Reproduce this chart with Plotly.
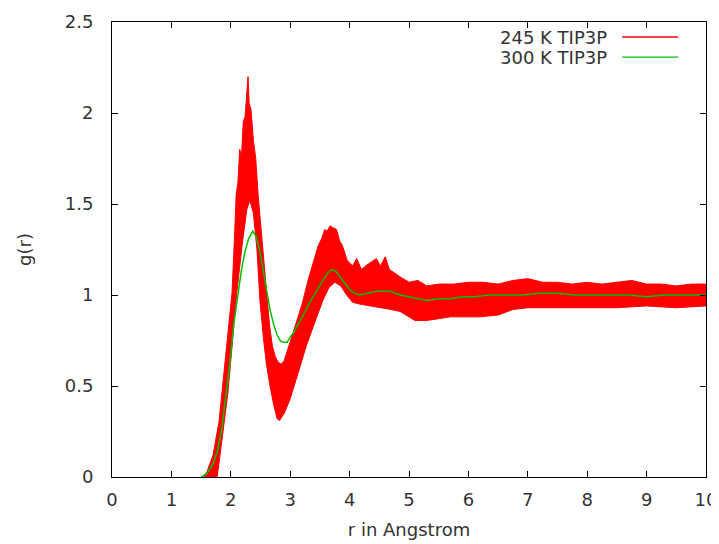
import plotly.graph_objects as go

# ---- data ----
series_names = ["245 K TIP3P", "300 K TIP3P"]

# 245 K: the trace is very noisy, represented by its upper and lower envelopes
r245_upper = [1.55, 1.6, 1.7, 1.8, 1.85, 1.95, 2.02, 2.06, 2.09, 2.12, 2.15, 2.18, 2.21, 2.24, 2.27, 2.29,
              2.31, 2.34, 2.38, 2.42, 2.46, 2.5, 2.55, 2.6, 2.65, 2.7, 2.75, 2.8, 2.85, 2.9, 3.0, 3.1,
              3.2, 3.3, 3.4, 3.47, 3.53, 3.58, 3.62, 3.67, 3.72, 3.78, 3.83, 3.88, 3.96, 4.05, 4.12,
              4.2, 4.27, 4.35, 4.45, 4.52, 4.6, 4.67, 4.75, 4.85, 5.0, 5.15, 5.3, 5.5, 5.75, 6.0,
              6.25, 6.5, 6.75, 7.0, 7.25, 7.5, 7.75, 8.0, 8.25, 8.5, 8.75, 9.0, 9.25, 9.5, 9.75, 10.0]
g245_upper = [0.0, 0.03, 0.12, 0.3, 0.46, 0.78, 1.01, 1.3, 1.55, 1.62, 1.8, 1.76, 1.95, 1.98, 2.12, 2.2,
              2.05, 2.02, 1.85, 1.75, 1.55, 1.4, 1.2, 1.0, 0.84, 0.72, 0.66, 0.63, 0.62, 0.64, 0.74, 0.84,
              0.95, 1.08, 1.2, 1.27, 1.31, 1.36, 1.35, 1.38, 1.37, 1.36, 1.3, 1.27, 1.19, 1.16, 1.2,
              1.14, 1.16, 1.18, 1.2, 1.16, 1.21, 1.14, 1.12, 1.1, 1.07, 1.08, 1.05, 1.06, 1.06, 1.07,
              1.07, 1.06, 1.08, 1.09, 1.07, 1.07, 1.06, 1.07, 1.06, 1.07, 1.08, 1.06, 1.06, 1.05, 1.06, 1.06]

r245_lower = [1.77, 1.85, 1.95, 2.03, 2.1, 2.2, 2.27, 2.32, 2.38, 2.44, 2.49, 2.55, 2.6, 2.66, 2.72,
              2.78, 2.82, 2.9, 3.0, 3.08, 3.16, 3.27, 3.38, 3.47, 3.55, 3.65, 3.75, 3.85, 3.95, 4.05,
              4.17, 4.35, 4.5, 4.7, 4.85, 5.0, 5.1, 5.3, 5.5, 5.7, 5.9, 6.2, 6.5, 6.75, 7.0, 7.5,
              8.0, 8.5, 9.0, 9.5, 10.0]
g245_lower = [0.0, 0.2, 0.46, 0.75, 1.01, 1.3, 1.47, 1.52, 1.45, 1.25, 0.97, 0.76, 0.62, 0.5, 0.4,
              0.32, 0.31, 0.35, 0.43, 0.52, 0.6, 0.72, 0.82, 0.9, 0.97, 1.04, 1.07, 1.05, 1.0, 0.96,
              0.95, 0.94, 0.93, 0.92, 0.91, 0.88, 0.86, 0.86, 0.87, 0.88, 0.88, 0.88, 0.89, 0.92, 0.93, 0.93,
              0.93, 0.93, 0.94, 0.93, 0.94]

# 300 K
r300 = [1.5, 1.6, 1.7, 1.78, 1.85, 1.92, 1.99, 2.05, 2.12, 2.18, 2.24, 2.3, 2.37, 2.43, 2.49, 2.55,
        2.6, 2.66, 2.72, 2.78, 2.83, 2.88, 2.95, 3.0, 3.05, 3.12, 3.22, 3.33, 3.45, 3.55, 3.63, 3.7,
        3.77, 3.84, 3.92, 4.0, 4.08, 4.17, 4.3, 4.45, 4.56, 4.68, 4.85, 5.0, 5.15, 5.3, 5.5, 5.69,
        5.9, 6.1, 6.36, 6.6, 6.9, 7.2, 7.5, 7.8, 8.1, 8.4, 8.7, 9.0, 9.3, 9.6, 10.0]
g300 = [0.0, 0.02, 0.07, 0.15, 0.27, 0.45, 0.64, 0.84, 1.01, 1.14, 1.24, 1.31, 1.35, 1.32, 1.24, 1.12,
        1.02, 0.92, 0.84, 0.78, 0.75, 0.74, 0.74, 0.77, 0.79, 0.83, 0.89, 0.96, 1.03, 1.08, 1.12, 1.14,
        1.13, 1.1, 1.06, 1.03, 1.01, 1.0, 1.01, 1.02, 1.02, 1.02, 1.0, 0.99, 0.98, 0.97, 0.98, 0.98,
        0.99, 0.99, 1.0, 1.0, 1.0, 1.01, 1.01, 1.0, 1.0, 1.0, 1.0, 0.99, 1.0, 1.0, 1.0]

x_ticks = [0, 1, 2, 3, 4, 5, 6, 7, 8, 9, 10]
y_ticks = [0, 0.5, 1, 1.5, 2, 2.5]
y_tick_text = ["0", "0.5", "1", "1.5", "2", "2.5"]

RED = "#ff0000"
GREEN = "#00c000"
FONT = "DejaVu Sans"
TXT = "#333333"
FS = 18

fig = go.Figure()

# 245 K noisy band (closed polygon from envelopes)
fig.add_trace(go.Scatter(
    x=r245_upper + r245_lower[::-1],
    y=g245_upper + g245_lower[::-1],
    mode="lines", fill="toself", fillcolor=RED,
    line=dict(color=RED, width=1), showlegend=False, hoverinfo="skip"))

# 300 K line
fig.add_trace(go.Scatter(x=r300, y=g300, mode="lines",
                         line=dict(color=GREEN, width=1.5), showlegend=False))

# gnuplot-style key: text right aligned, line sample on the right
key_colors = [RED, GREEN]
key_y = [0.967, 0.923]
for name, col, ky in zip(series_names, key_colors, key_y):
    fig.add_annotation(x=0.837, y=ky, xref="paper", yref="paper", text=name,
                       showarrow=False, xanchor="right", yanchor="middle",
                       font=dict(family=FONT, size=FS, color=TXT))
    fig.add_shape(type="line", xref="paper", yref="paper", layer="above",
                  x0=0.859, x1=0.953, y0=ky, y1=ky, line=dict(color=col, width=1.3))

axis_common = dict(showline=True, linecolor="#000000", linewidth=1, mirror="allticks",
                   ticks="inside", ticklen=6, tickcolor="#000000", showgrid=False, zeroline=False,
                   automargin=False, tickfont=dict(family=FONT, size=FS, color=TXT))

fig.update_xaxes(range=[0, 10], tickvals=x_ticks, ticklabelstandoff=6,
                 title=dict(text="r in Angstrom", font=dict(family=FONT, size=FS, color=TXT), standoff=14),
                 **axis_common)
fig.update_yaxes(range=[0, 2.5], tickvals=y_ticks, ticktext=y_tick_text, ticklabelstandoff=14,
                 title=dict(text="g(r)", font=dict(family=FONT, size=FS, color=TXT), standoff=28),
                 **axis_common)

# the page body adds an 8 px offset, so the figure is sized to fill the rest of the window
fig.update_layout(width=711, height=536, margin=dict(l=104, r=13, t=14, b=67),
                  plot_bgcolor="white", paper_bgcolor="white", showlegend=False)

fig.write_html("out.html")
